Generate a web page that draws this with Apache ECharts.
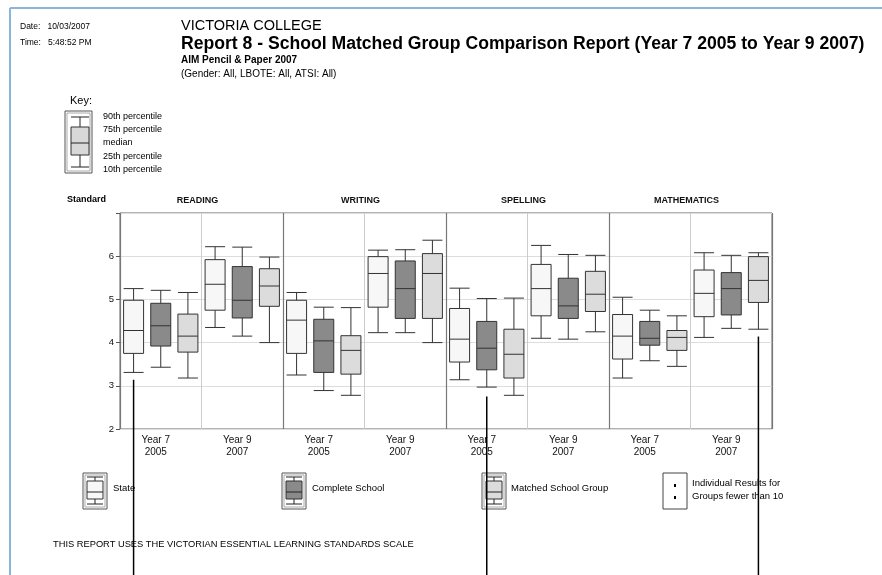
<!DOCTYPE html>
<html>
<head>
<meta charset="utf-8">
<script src="https://cdn.jsdelivr.net/npm/echarts@6/dist/echarts.min.js"></script>
<style>
  html, body { margin: 0; padding: 0; background: #fff; }
  #main { width: 882px; height: 575px; }
</style>
</head>
<body>
<div id="main"></div>
<script>
// subjects, cohorts and groups
const subjects = ['READING', 'WRITING', 'SPELLING', 'MATHEMATICS'];
const cohorts = ['Year 7\n2005', 'Year 9\n2007'];
const groups = ['State', 'Complete School', 'Matched School Group'];
const groupFill = ['#f7f7f7', '#8a8a8a', '#dcdcdc'];

// [10th, 25th, median, 75th, 90th] per subject/cohort (R7, R9, W7, W9, S7, S9, M7, M9)
const stateVals = [
  [3.31, 3.75, 4.28, 4.98, 5.25], [4.35, 4.75, 5.35, 5.92, 6.22],
  [3.25, 3.75, 4.52, 4.98, 5.16], [4.23, 4.82, 5.60, 5.99, 6.14],
  [3.14, 3.55, 4.08, 4.79, 5.26], [4.10, 4.62, 5.25, 5.81, 6.25],
  [3.18, 3.62, 4.15, 4.65, 5.05], [4.12, 4.60, 5.14, 5.68, 6.08]
];
const completeVals = [
  [3.43, 3.92, 4.39, 4.91, 5.21], [4.15, 4.57, 4.98, 5.76, 6.21],
  [2.89, 3.31, 4.04, 4.54, 4.82], [4.23, 4.56, 5.25, 5.89, 6.15],
  [2.97, 3.37, 3.87, 4.49, 5.02], [4.08, 4.56, 4.85, 5.49, 6.04],
  [3.58, 3.94, 4.10, 4.49, 4.75], [4.33, 4.64, 5.25, 5.62, 6.02]
];
const matchedVals = [
  [3.18, 3.78, 4.15, 4.66, 5.16], [4.00, 4.84, 5.31, 5.71, 5.98],
  [2.78, 3.27, 3.82, 4.16, 4.81], [4.00, 4.56, 5.60, 6.06, 6.37],
  [2.78, 3.18, 3.73, 4.31, 5.03], [4.25, 4.72, 5.12, 5.65, 6.02],
  [3.45, 3.82, 4.12, 4.28, 4.62], [4.31, 4.93, 5.44, 5.99, 6.08]
];
// individual result lines: [box index, value where the line starts]
const individualLines = [[0, 3.14], [13, 2.75], [23, 4.14]];

const yTicks = [2, 3, 4, 5, 6];

// build the 24 boxes (3 groups per subject/cohort)
const allVals = [stateVals, completeVals, matchedVals];
const boxNames = [];
const boxData = [];
for (let k = 0; k < 8; k++) {
  for (let g = 0; g < 3; g++) {
    boxNames.push(subjects[Math.floor(k / 2)] + ' ' + cohorts[k % 2] + ' ' + groups[g]);
    boxData.push({
      value: allVals[g][k],
      itemStyle: { color: groupFill[g], borderColor: '#333', borderWidth: 1 }
    });
  }
}
const cohortLabels = [];
subjects.forEach(() => cohorts.forEach(c => cohortLabels.push(c)));

const font = 'Liberation Sans, Arial, sans-serif';

function boxIcon(x, y, w, h, fill, inner) {
  // inner: [capTop, boxTop, median, boxBottom, capBottom, boxX, boxW] offsets
  const [ct, bt, md, bb, cb, bx, bw] = inner;
  const cx = x + bx + bw / 2;
  const ln = (x1, y1, x2, y2) => ({ type: 'line', shape: { x1, y1, x2, y2 }, style: { stroke: '#222', lineWidth: 1 } });
  return [
    { type: 'rect', shape: { x: x, y: y, width: w, height: h }, style: { fill: '#fff', stroke: '#555', lineWidth: 1 } },
    { type: 'rect', shape: { x: x + 2, y: y + 2, width: w - 4, height: h - 4 }, style: { fill: 'none', stroke: '#aaa', lineWidth: 1 } },
    ln(x + bx, y + ct, x + bx + bw, y + ct),
    ln(cx, y + ct, cx, y + bt),
    { type: 'rect', shape: { x: x + bx, y: y + bt, width: bw, height: bb - bt }, style: { fill: fill, stroke: '#333', lineWidth: 1 } },
    ln(x + bx, y + md, x + bx + bw, y + md),
    ln(cx, y + bb, cx, y + cb),
    ln(x + bx, y + cb, x + bx + bw, y + cb)
  ];
}

const txt = (x, y, text, size, weight) => ({
  type: 'text', x: x, y: y,
  style: { text: text, font: (weight || 'normal') + ' ' + size + 'px ' + font, fill: '#000', textVerticalAlign: 'middle' }
});

const legendIconInner = [4, 8, 19, 26, 31, 4, 16];
const graphics = [
  { type: 'line', shape: { x1: 10, y1: 8, x2: 882, y2: 8 }, style: { stroke: '#8db4dc', lineWidth: 2 } },
  { type: 'line', shape: { x1: 10, y1: 8, x2: 10, y2: 575 }, style: { stroke: '#8db4dc', lineWidth: 2 } },
  txt(20, 27, 'Date:   10/03/2007', 8.5),
  txt(20, 43, 'Time:   5:48:52 PM', 8.5),
  txt(181, 26, 'VICTORIA COLLEGE', 14.5),
  txt(181, 44, 'Report 8 - School Matched Group Comparison Report (Year 7 2005 to Year 9 2007)', 17.6, 'bold'),
  txt(181, 60, 'AIM Pencil & Paper 2007', 10, 'bold'),
  txt(181, 74, '(Gender: All, LBOTE: All, ATSI: All)', 10),
  txt(70, 101, 'Key:', 11),
  txt(103, 117, '90th percentile', 9),
  txt(103, 130, '75th percentile', 9),
  txt(103, 143, 'median', 9),
  txt(103, 157, '25th percentile', 9),
  txt(103, 170, '10th percentile', 9),
  txt(67, 200, 'Standard', 9, 'bold'),
  txt(113, 488, groups[0], 9.5),
  txt(312, 488, groups[1], 9.5),
  txt(511, 488, groups[2], 9.5),
  txt(692, 483, 'Individual Results for', 9.5),
  txt(692, 496, 'Groups fewer than 10', 9.5),
  txt(53, 544, 'THIS REPORT USES THE VICTORIAN ESSENTIAL LEARNING STANDARDS SCALE', 9.3),
  { type: 'rect', shape: { x: 663, y: 473, width: 24, height: 36 }, style: { fill: '#fff', stroke: '#444', lineWidth: 1 } },
  { type: 'rect', shape: { x: 674, y: 484, width: 2, height: 3 }, style: { fill: '#000' } },
  { type: 'rect', shape: { x: 674, y: 496, width: 2, height: 3 }, style: { fill: '#000' } }
]
  .concat(boxIcon(65, 111, 27, 62, '#d8d8d8', [6, 16, 32, 44, 56, 6, 18]))
  .concat(boxIcon(83, 473, 24, 36, groupFill[0], legendIconInner))
  .concat(boxIcon(282, 473, 24, 36, groupFill[1], legendIconInner))
  .concat(boxIcon(482, 473, 24, 36, groupFill[2], legendIconInner));

const chart = echarts.init(document.getElementById('main'));
chart.setOption({
  backgroundColor: '#fff',
  animation: false,
  textStyle: { fontFamily: font },
  grid: { left: 120, right: 110, top: 213, bottom: 146, show: true, borderColor: '#666', borderWidth: 1 },
  xAxis: [
    { type: 'category', data: boxNames, show: false },
    {
      type: 'category', data: cohortLabels, position: 'bottom',
      axisLine: { show: false }, axisTick: { show: false },
      axisLabel: { interval: 0, fontSize: 10, lineHeight: 12, color: '#111', margin: 5, padding: [0, 10, 0, 0] },
      splitLine: { show: true, lineStyle: { color: '#cccccc', width: 1 } }
    },
    {
      type: 'category', data: subjects, position: 'top', z: 5,
      axisLine: { show: false }, axisTick: { show: false },
      axisLabel: { interval: 0, fontSize: 9, fontWeight: 'bold', color: '#111', margin: 8, padding: [0, 8, 0, 0] },
      splitLine: { show: true, lineStyle: { color: '#777', width: 1.2 } }
    }
  ],
  yAxis: {
    type: 'value', min: 2, max: 7, interval: 1,
    axisLine: { show: false },
    axisTick: { show: true, length: 4, lineStyle: { color: '#555' } },
    axisLabel: { fontSize: 9.5, color: '#111', margin: 6, formatter: v => (yTicks.indexOf(v) >= 0 ? v : '') },
    splitLine: { lineStyle: { color: '#dddddd' } }
  },
  series: [
    {
      type: 'boxplot', xAxisIndex: 0, data: boxData,
      boxWidth: [20, 20], z: 3,
      emphasis: { disabled: true }
    },
    {
      type: 'custom', xAxisIndex: 0, data: individualLines, z: 10, clip: false,
      renderItem: (params, api) => {
        const p = api.coord([api.value(0), api.value(1)]);
        return { type: 'line', shape: { x1: p[0], y1: p[1], x2: p[0], y2: api.getHeight() }, style: { stroke: '#000', lineWidth: 1.5 } };
      }
    }
  ],
  graphic: graphics
});
</script>
</body>
</html>
